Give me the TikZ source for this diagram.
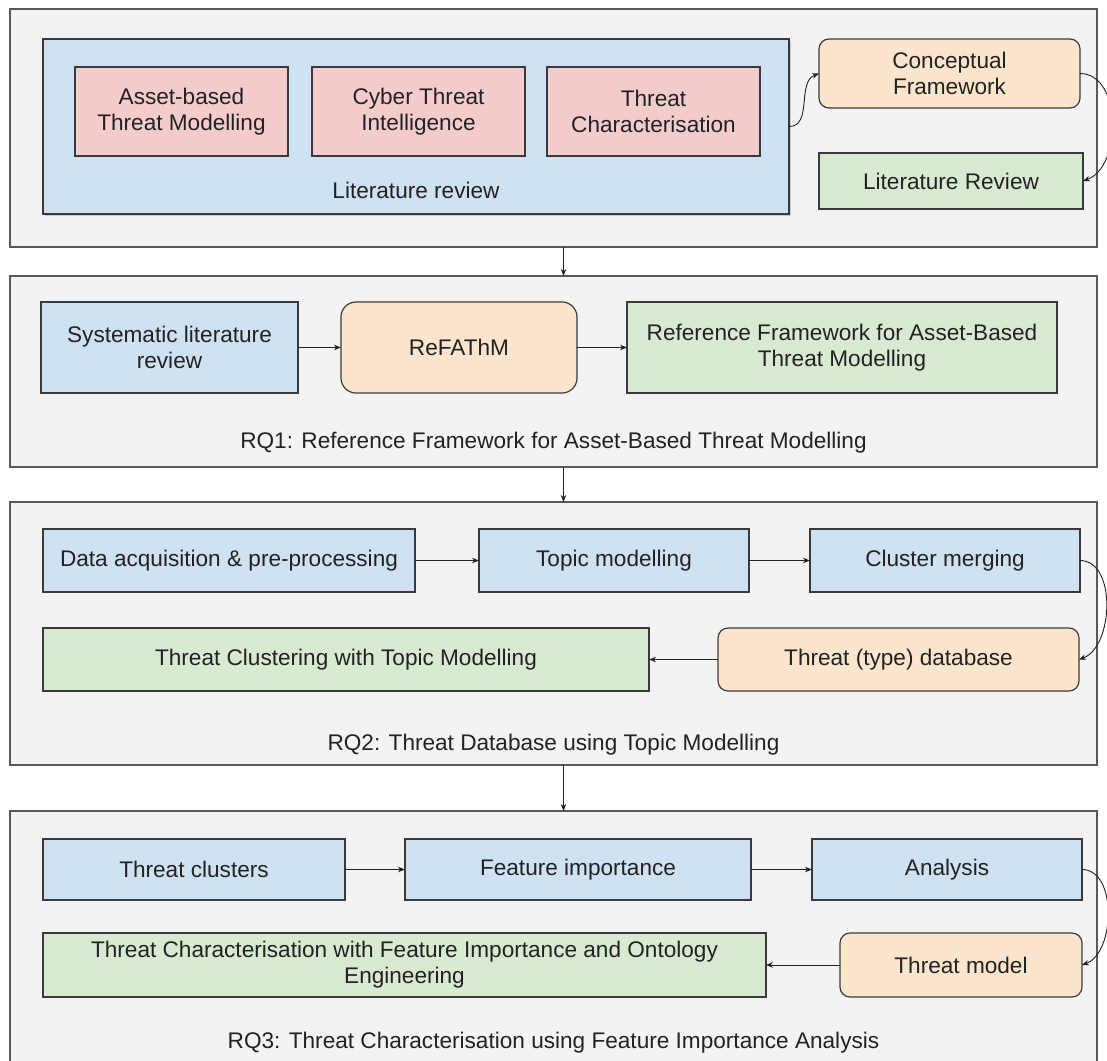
\documentclass[tikz,border=0pt]{standalone}
\usepackage{fontspec}
\setmainfont{Liberation Sans}
\usetikzlibrary{arrows.meta,shadows}
\definecolor{panelfill}{HTML}{F3F3F3}
\definecolor{panelline}{HTML}{595959}
\definecolor{boxline}{HTML}{3A3A3A}
\definecolor{blueFill}{HTML}{CFE2F3}
\definecolor{pinkFill}{HTML}{F4CCCC}
\definecolor{orangeFill}{HTML}{FCE5CD}
\definecolor{greenFill}{HTML}{D9EAD3}
\definecolor{ink}{HTML}{222222}
\begin{document}
\begin{tikzpicture}[x=1pt,y=-1pt,
  txt/.style={font=\fontsize{22.6}{26}\selectfont, text=ink, align=center},
  panel/.style={draw=panelline, line width=1.3pt, fill=panelfill, inner sep=0pt, outer sep=0pt},
  box/.style={txt, draw=boxline, line width=1.2pt, inner sep=0pt, outer sep=0pt},
  bluebox/.style={box, fill=blueFill},
  pinkbox/.style={box, fill=pinkFill},
  greenbox/.style={box, fill=greenFill},
  orangebox/.style={box, fill=orangeFill, rounded corners=10pt},
  link/.style={draw=ink, line width=0.9pt, -{Stealth[length=7pt,width=5.5pt]}},
]
\useasboundingbox (0,0) rectangle (1107,1060);
\clip (0,0) rectangle (1107,1060);
\fill[white] (0,0) rectangle (1107,1060);

% ---------- panels ----------
\node[panel, minimum width=1087pt, minimum height=238pt] (p1) at (553.5,128) {};
\node[panel, minimum width=1087pt, minimum height=191pt] (p2) at (553.5,371.5) {};
\node[panel, minimum width=1087pt, minimum height=263pt] (p3) at (553.5,633.5) {};
\node[panel, minimum width=1087pt, minimum height=264pt] (p4) at (553.5,943) {};

% ---------- literature review ----------
\node[bluebox, minimum width=746pt, minimum height=175pt,
      drop shadow={shadow xshift=2pt, shadow yshift=-2pt, opacity=0.35}] (lit) at (416,126.5) {};
\node[pinkbox, minimum width=213pt, minimum height=89pt] (asset) at (181.5,111.5) {Asset-based\\Threat Modelling};
\node[pinkbox, minimum width=213pt, minimum height=89pt] (cti) at (418.5,111.5) {Cyber Threat\\Intelligence};
\node[pinkbox, minimum width=213pt, minimum height=89pt] (tchar) at (653.5,111.5) {Threat\\Characterisation};
\node[txt] (litlabel) at (416,190) {Literature review};
\node[orangebox, minimum width=261pt, minimum height=69pt] (cf) at (949.5,73.5) {Conceptual\\Framework};
\node[greenbox, minimum width=264pt, minimum height=56pt] (litout) at (951,181) {Literature Review};

\draw[link] (lit.east) to[out=0, in=200] (cf.west);
\draw[link] (cf.east) to[out=0, in=20, looseness=1.0] (litout.east);

% ---------- RQ1 ----------
\node[bluebox, minimum width=257pt, minimum height=91pt] (slr) at (169.5,347.5) {Systematic literature\\review};
\node[orangebox, rounded corners=15pt, minimum width=236pt, minimum height=91pt] (refathm) at (459,347.5) {ReFAThM};
\node[greenbox, minimum width=430pt, minimum height=91pt] (rf) at (842,347.5) {Reference Framework for Asset-Based\\Threat Modelling};
\node[txt] (rq1) at (553.5,443) {RQ1: Reference Framework for Asset-Based Threat Modelling};

\draw[link] (slr) -- (refathm);
\draw[link] (refathm) -- (rf);

% ---------- RQ2 ----------
\node[bluebox, minimum width=372pt, minimum height=63pt] (data) at (229,560.5) {Data acquisition \& pre-processing};
\node[bluebox, minimum width=270pt, minimum height=63pt] (topic) at (614,560.5) {Topic modelling};
\node[bluebox, minimum width=270pt, minimum height=63pt] (merge) at (945,560.5) {Cluster merging};
\node[greenbox, minimum width=606pt, minimum height=63pt] (tclust) at (346,659.5) {Threat Clustering with Topic Modelling};
\node[orangebox, minimum width=361pt, minimum height=63pt] (tdb) at (898.5,659.5) {Threat (type) database};
\node[txt] (rq2) at (553.5,745) {RQ2: Threat Database using Topic Modelling};

\draw[link] (data) -- (topic);
\draw[link] (topic) -- (merge);
\draw[link] (merge.east) to[out=0, in=20, looseness=0.95] (tdb.east);
\draw[link] (tdb) -- (tclust);

% ---------- RQ3 ----------
\node[bluebox, minimum width=302pt, minimum height=61pt] (clusters) at (194,869.5) {Threat clusters};
\node[bluebox, minimum width=346pt, minimum height=61pt] (fi) at (578,869.5) {Feature importance};
\node[bluebox, minimum width=270pt, minimum height=61pt] (analysis) at (947,869.5) {Analysis};
\node[greenbox, minimum width=723pt, minimum height=64pt] (tcfi) at (404.5,965) {Threat Characterisation with Feature Importance and Ontology\\Engineering};
\node[orangebox, minimum width=242pt, minimum height=64pt] (tmodel) at (961,965) {Threat model};
\node[txt] (rq3) at (553.5,1043) {RQ3: Threat Characterisation using Feature Importance Analysis};

\draw[link] (clusters) -- (fi);
\draw[link] (fi) -- (analysis);
\draw[link] (analysis.east) to[out=0, in=20, looseness=0.95] (tmodel.east);
\draw[link] (tmodel) -- (tcfi);

% ---------- flow between panels ----------
\draw[link] ([xshift=10pt]p1.south) -- ([xshift=10pt]p2.north);
\draw[link] ([xshift=10pt]p2.south) -- ([xshift=10pt]p3.north);
\draw[link] ([xshift=10pt]p3.south) -- ([xshift=10pt]p4.north);
\end{tikzpicture}
\end{document}
